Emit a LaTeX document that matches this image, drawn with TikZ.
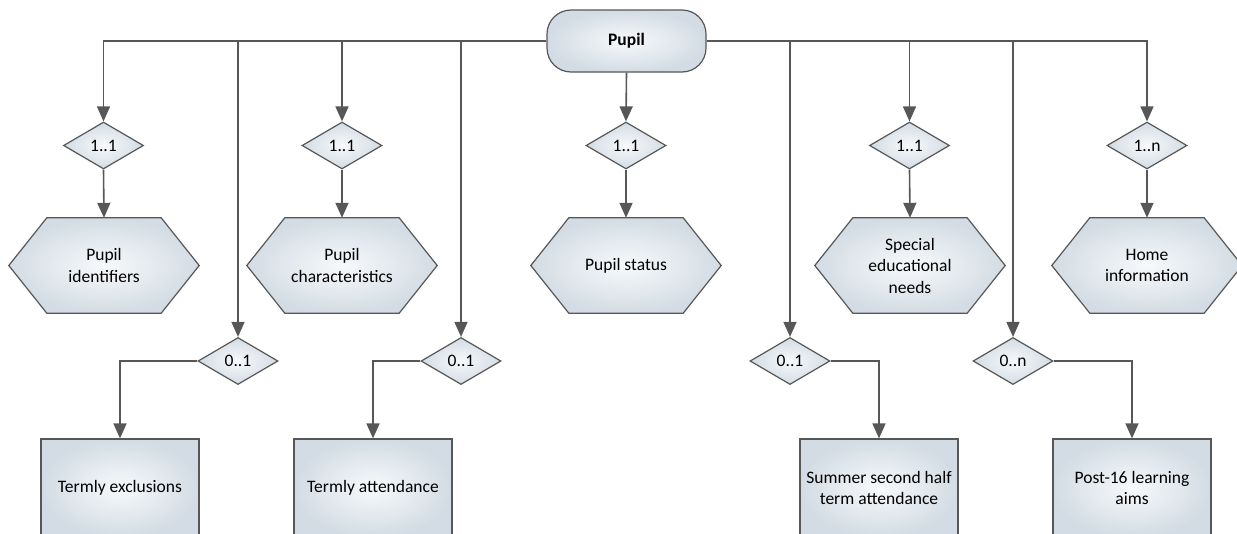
\documentclass[tikz,border=0pt]{standalone}
\usepackage{fontspec}
\setmainfont{Carlito}
\usetikzlibrary{shapes.geometric,arrows.meta,backgrounds}
\definecolor{edgecol}{HTML}{575757}
\definecolor{fillout}{HTML}{D3DCE4}
\definecolor{fillin}{HTML}{F7F9FB}
\tikzset{
  shapefill/.style={draw=edgecol, line width=1.2pt, inner color=fillin, outer color=fillout},
  base/.style={shapefill, font=\fontsize{17.5}{21.5}\selectfont, align=center},
  hexbox/.style={font=\fontsize{17.5}{21.5}\selectfont, align=center, rectangle,
    minimum width=190pt, minimum height=95pt, inner sep=0pt},
  diam/.style={base, diamond, aspect=1.7, minimum width=80pt, minimum height=47pt, inner sep=0pt},
  recbox/.style={base, rectangle, minimum width=158pt, minimum height=98pt, inner sep=0pt},
  topbox/.style={base, rectangle, rounded corners=24pt, minimum width=159pt, minimum height=62pt,
    font=\fontsize{17.5}{21.5}\selectfont\bfseries},
  conn/.style={draw=edgecol, line width=1.6pt, -{Triangle[length=15pt,width=13pt]}}
}
\newcommand\hexoutline[1]{%
  \path[shapefill] (#1.west) -- ([xshift=38pt]#1.north west) -- ([xshift=-38pt]#1.north east)
    -- (#1.east) -- ([xshift=-38pt]#1.south east) -- ([xshift=38pt]#1.south west) -- cycle;}
\begin{document}
\begin{tikzpicture}[x=1pt,y=-1pt]
\useasboundingbox (0,0) rectangle (1237,533);
\node[topbox] (pupil) at (626.5,41) {Pupil};
% top diamonds
\node[diam] (d1) at (103.5,145.5) {1..1};
\node[diam] (d2) at (342,145.5) {1..1};
\node[diam] (d3) at (626,145.5) {1..1};
\node[diam] (d4) at (909.5,145.5) {1..1};
\node[diam] (d5) at (1147,145.5) {1..n};
% hexagons
\node[hexbox] (h1) at (104,265.5) {Pupil\\identifiers};
\node[hexbox] (h2) at (342,265.5) {Pupil\\characteristics};
\node[hexbox] (h3) at (626,265.5) {Pupil status};
\node[hexbox] (h4) at (910,265.5) {Special\\educational\\needs};
\node[hexbox] (h5) at (1147,265.5) {Home\\information};
\begin{scope}[on background layer]
\hexoutline{h1}\hexoutline{h2}\hexoutline{h3}\hexoutline{h4}\hexoutline{h5}
\end{scope}
% bottom diamonds
\node[diam] (e1) at (238,361) {0..1};
\node[diam] (e2) at (461,361) {0..1};
\node[diam] (e3) at (790,361) {0..1};
\node[diam] (e4) at (1013,361) {0..n};
% rectangles
\node[recbox] (r1) at (120,488) {Termly exclusions};
\node[recbox] (r2) at (373,488) {Termly attendance};
\node[recbox] (r3) at (879,488) {Summer second half\\term attendance};
\node[recbox] (r4) at (1132,488) {Post-16 learning\\aims};
% connectors
\draw[conn] (pupil.west) -| (d1.north);
\draw[conn] (pupil.west) -| (e1.north);
\draw[conn] (pupil.west) -| (d2.north);
\draw[conn] (pupil.west) -| (e2.north);
\draw[conn] (pupil.south) -- (d3.north);
\draw[conn] (pupil.east) -| (e3.north);
\draw[conn] (pupil.east) -| (d4.north);
\draw[conn] (pupil.east) -| (e4.north);
\draw[conn] (pupil.east) -| (d5.north);
\draw[conn] (d1.south) -- (h1.north);
\draw[conn] (d2.south) -- (h2.north);
\draw[conn] (d3.south) -- (h3.north);
\draw[conn] (d4.south) -- (h4.north);
\draw[conn] (d5.south) -- (h5.north);
\draw[conn] (e1.west) -| (r1.north);
\draw[conn] (e2.west) -| (r2.north);
\draw[conn] (e3.east) -| (r3.north);
\draw[conn] (e4.east) -| (r4.north);
\end{tikzpicture}
\end{document}
